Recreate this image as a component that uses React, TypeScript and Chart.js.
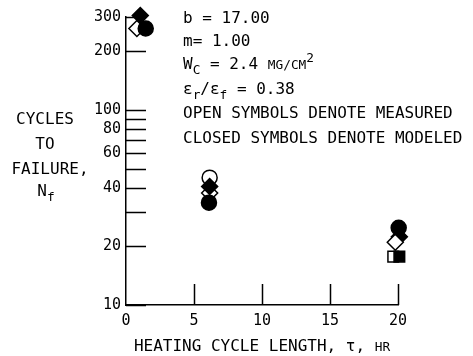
import React, { useEffect, useRef } from "react";
import { Chart, registerables } from "chart.js";

Chart.register(...registerables);

// ---- data ----
const yTickValues = [10, 20, 30, 40, 50, 60, 70, 80, 90, 100, 200, 300];
const yLabelValues = [10, 20, 40, 60, 80, 100, 200, 300];
const xMarkTicks = [5, 10, 15, 20];

// measured (open symbols)
const measuredCircleX = [6.15];
const measuredCircleY = [45];
const measuredDiamondX = [0.8, 6.15, 19.8];
const measuredDiamondY = [262, 37.5, 21];
const measuredSquareX = [19.65];
const measuredSquareY = [17.7];

// modeled (closed symbols)
const modeledDiamondX = [1.05, 6.15, 20.1];
const modeledDiamondY = [305, 40.5, 22.4];
const modeledCircleX = [1.45, 6.1, 20.05];
const modeledCircleY = [262, 33.5, 24.9];
const modeledSquareX = [20.1];
const modeledSquareY = [17.7];

const annotationLines = [
  [{ t: "b = 17.00" }],
  [{ t: "m= 1.00" }],
  [{ t: "W" }, { t: "C", sub: true }, { t: " = 2.4 " }, { t: "MG/CM", small: true }, { t: "2", sup: true }],
  [{ t: "ε" }, { t: "r", sub: true }, { t: "/ε" }, { t: "f", sub: true }, { t: " = 0.38" }],
  [{ t: "OPEN SYMBOLS DENOTE MEASURED" }],
  [{ t: "CLOSED SYMBOLS DENOTE MODELED" }],
];
const leftTitleLines = [
  [{ t: "CYCLES" }],
  [{ t: "TO" }],
  [{ t: "FAILURE," }],
  [{ t: "N" }, { t: "f", sub: true }],
];
const xTitle = [{ t: "HEATING CYCLE LENGTH, τ, " }, { t: "HR", small: true }];

const FONT = '"DejaVu Sans Mono", monospace';

type Seg = { t: string; sub?: boolean; sup?: boolean; small?: boolean };

function segFont(s: Seg, size: number) {
  const sz = s.sub || s.sup ? size * 0.8 : s.small ? size * 0.8 : size;
  return `${sz}px ${FONT}`;
}
function segsWidth(ctx: CanvasRenderingContext2D, segs: Seg[], size: number) {
  let w = 0;
  for (const s of segs) {
    ctx.font = segFont(s, size);
    w += ctx.measureText(s.t).width;
  }
  return w;
}
function drawSegs(ctx: CanvasRenderingContext2D, segs: Seg[], x: number, cy: number, size: number, align: "left" | "center") {
  const base = cy + size * 0.36;
  let cx = align === "center" ? x - segsWidth(ctx, segs, size) / 2 : x;
  ctx.textAlign = "left";
  ctx.textBaseline = "alphabetic";
  for (const s of segs) {
    ctx.font = segFont(s, size);
    const dy = s.sub ? size * 0.35 : s.sup ? -size * 0.45 : 0;
    ctx.fillText(s.t, cx, base + dy);
    cx += ctx.measureText(s.t).width;
  }
}

const pts = (xs: number[], ys: number[]) => xs.map((x, i) => ({ x, y: ys[i] }));

const innerTicks = {
  id: "innerTicks",
  beforeDatasetsDraw(chart: any) {
    const { ctx, chartArea, scales } = chart;
    ctx.save();
    ctx.strokeStyle = "#000";
    ctx.lineWidth = 1.5;
    ctx.beginPath();
    for (const v of yTickValues) {
      const y = Math.round(scales.y.getPixelForValue(v)) + 0.5;
      ctx.moveTo(chartArea.left, y);
      ctx.lineTo(chartArea.left + 20, y);
    }
    for (const v of xMarkTicks) {
      const x = Math.round(scales.x.getPixelForValue(v)) + 0.5;
      ctx.moveTo(x, chartArea.bottom);
      ctx.lineTo(x, chartArea.bottom - 21);
    }
    ctx.stroke();
    ctx.restore();
  },
  afterDraw(chart: any) {
    const { ctx, chartArea } = chart;
    ctx.save();
    ctx.fillStyle = "#000";
    const annY = [17, 40, 63, 88, 112, 137];
    annotationLines.forEach((segs, i) => drawSegs(ctx, segs as Seg[], 183, annY[i], 16, "left"));
    const leftY = [118, 143, 168, 190];
    const leftX = [45, 45, 50, 46];
    leftTitleLines.forEach((segs, i) => drawSegs(ctx, segs as Seg[], leftX[i], leftY[i], 16, "center"));
    drawSegs(ctx, xTitle as Seg[], (chartArea.left + chartArea.right) / 2, 345, 16, "center");
    ctx.restore();
  },
};

export default function App() {
  const ref = useRef<HTMLCanvasElement>(null);
  useEffect(() => {
    if (!ref.current) return;
    const common = { showLine: false, borderColor: "#000", pointBorderWidth: 1.5, clip: false as any };
    const chart = new Chart(ref.current, {
      type: "scatter",
      data: {
        datasets: [
          { ...common, label: "modeled circle", data: pts(modeledCircleX, modeledCircleY), pointStyle: "circle", pointRadius: 7.5, backgroundColor: "#000", order: 1 },
          { ...common, label: "measured diamond (front)", data: pts([measuredDiamondX[0], measuredDiamondX[2]], [measuredDiamondY[0], measuredDiamondY[2]]), pointStyle: "rectRot", pointRadius: 8, backgroundColor: "#fff", order: 2 },
          { ...common, label: "modeled diamond", data: pts(modeledDiamondX, modeledDiamondY), pointStyle: "rectRot", pointRadius: 8, backgroundColor: "#000", order: 3 },
          { ...common, label: "measured diamond (back)", data: pts([measuredDiamondX[1]], [measuredDiamondY[1]]), pointStyle: "rectRot", pointRadius: 8, backgroundColor: "#fff", order: 4 },
          { ...common, label: "measured circle", data: pts(measuredCircleX, measuredCircleY), pointStyle: "circle", pointRadius: 7.5, backgroundColor: "#fff", order: 5 },
          { ...common, label: "modeled square", data: pts(modeledSquareX, modeledSquareY), pointStyle: "rect", pointRadius: 7.5, backgroundColor: "#000", order: 6 },
          { ...common, label: "measured square", data: pts(measuredSquareX, measuredSquareY), pointStyle: "rect", pointRadius: 7.5, backgroundColor: "#fff", order: 7 },
        ],
      },
      options: {
        animation: false,
        responsive: false,
        layout: { padding: { left: 0, right: 75, top: 17, bottom: 0 } },
        plugins: { legend: { display: false }, tooltip: { enabled: false } },
        scales: {
          x: {
            type: "linear",
            min: 0,
            max: 20,
            grid: { display: false, drawTicks: false },
            border: { display: true, color: "#000", width: 1.5 },
            ticks: { stepSize: 5, autoSkip: false, maxRotation: 0, color: "#000", padding: 7, font: { family: FONT, size: 15 } },
            afterFit: (s: any) => { s.height = 51; },
          },
          y: {
            type: "logarithmic",
            min: 10,
            max: 300,
            grid: { display: false, drawTicks: false },
            border: { display: true, color: "#000", width: 1.5 },
            afterBuildTicks: (s: any) => { s.ticks = yTickValues.map((v) => ({ value: v })); },
            ticks: {
              autoSkip: false,
              color: "#000",
              padding: 5,
              font: { family: FONT, size: 15 },
              callback: (v: any) => (yLabelValues.includes(Number(v)) ? String(v) : ""),
            },
            afterFit: (s: any) => { s.width = 126; },
          },
        },
      },
      plugins: [innerTicks],
    });
    return () => chart.destroy();
  }, []);
  return (
    <div style={{ position: "absolute", left: 0, top: 0, width: 473, height: 356, background: "#fff" }}>
      <canvas ref={ref} width={473} height={356} style={{ display: "block" }} />
    </div>
  );
}
